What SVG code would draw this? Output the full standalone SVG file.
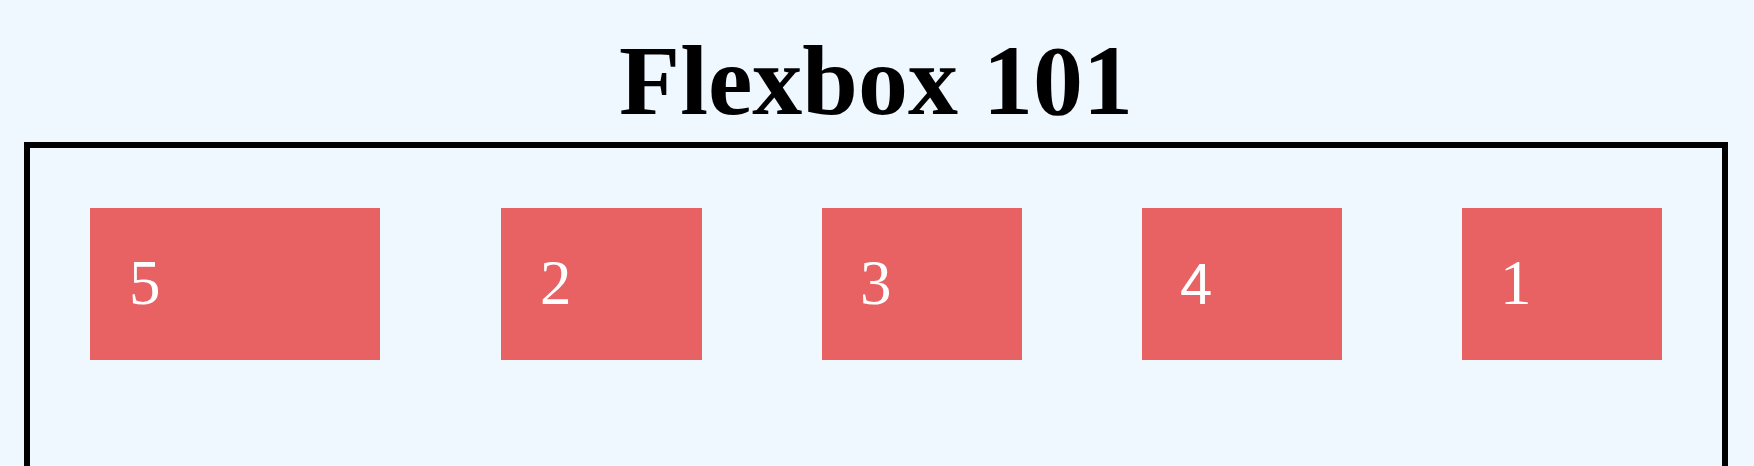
<svg xmlns="http://www.w3.org/2000/svg" width="1754" height="466" viewBox="0 0 1754 466">
  <style>
    .bg { fill: #F0F8FF; }
    .frame { fill: none; stroke: #000000; stroke-width: 6; }
    .title { font-family: "Liberation Serif", "Times New Roman", serif; font-weight: bold; font-size: 100px; fill: #000000; }
    .box { fill: #E86163; }
    .num { font-family: "Liberation Serif", "Times New Roman", serif; font-size: 63px; fill: #FFFFFF; }
    .num-sans { font-family: "Liberation Sans", Arial, sans-serif; font-size: 58px; fill: #FFFFFF; }
  </style>
  <rect class="bg" x="0" y="0" width="1754" height="466"/>
  <g id="title">
    <text class="title" x="876" y="114" text-anchor="middle">Flexbox 101</text>
  </g>
  <g id="container">
    <rect class="frame" x="27" y="145" width="1698" height="400"/>
  </g>
  <g id="item-5">
    <rect class="box" x="90" y="208" width="290" height="152"/>
    <text class="num" x="129" y="304">5</text>
  </g>
  <g id="item-2">
    <rect class="box" x="501" y="208" width="201" height="152"/>
    <text class="num" x="540" y="304">2</text>
  </g>
  <g id="item-3">
    <rect class="box" x="822" y="208" width="200" height="152"/>
    <text class="num" x="860" y="304">3</text>
  </g>
  <g id="item-4">
    <rect class="box" x="1142" y="208" width="200" height="152"/>
    <text class="num-sans" x="1180" y="304">4</text>
  </g>
  <g id="item-1">
    <rect class="box" x="1462" y="208" width="200" height="152"/>
    <text class="num" x="1500" y="304">1</text>
  </g>
  <g id="connectors"></g>
</svg>
